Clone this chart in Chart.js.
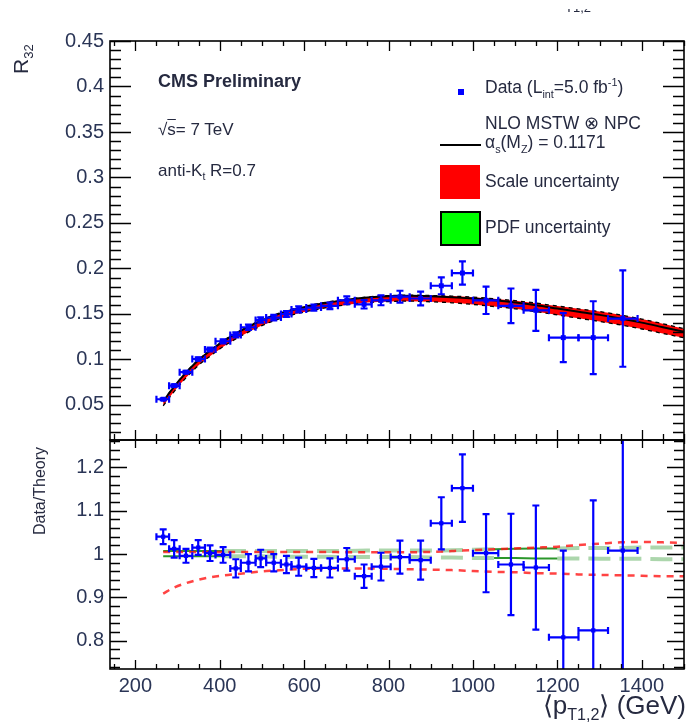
<!DOCTYPE html>
<html>
<head>
<meta charset="utf-8">
<script src="https://cdn.jsdelivr.net/npm/chart.js@4.4.1/dist/chart.umd.min.js"></script>
<style>
  body { margin: 0; background: #fff; }
  #wrap { position: relative; width: 688px; height: 723px; overflow: hidden;
          font-family: "Liberation Sans", Arial, sans-serif; color: #262a40; }
  canvas { position: absolute; left: 0; top: 0; }
  .t { position: absolute; white-space: nowrap; line-height: 1; }
  sub, sup { font-size: 62%; line-height: 0; }
  .box { position: absolute; }
</style>
</head>
<body>
<div id="wrap">
  <canvas id="ratioChart" width="688" height="723"></canvas>
  <canvas id="r32Chart" width="688" height="723"></canvas>

  <div class="t" style="left:158px;top:72px;font-size:18px;font-weight:bold">CMS Preliminary</div>
  <div class="t" style="left:158px;top:121px;font-size:17px">&radic;<span style="text-decoration:overline">s</span>= 7 TeV</div>
  <div class="t" style="left:158px;top:162px;font-size:17px">anti-K<sub>t</sub> R=0.7</div>

  <div class="box" style="left:458px;top:89px;width:6px;height:6px;background:#00f"></div>
  <div class="t" style="left:485px;top:79px;font-size:17.5px">Data (L<sub>int</sub>=5.0 fb<sup>-1</sup>)</div>
  <div class="box" style="left:440px;top:144px;width:41px;height:2px;background:#000"></div>
  <div class="t" style="left:485px;top:115px;font-size:17.5px">NLO MSTW &otimes; NPC</div>
  <div class="t" style="left:485px;top:134px;font-size:17.5px">&alpha;<sub>s</sub>(M<sub>Z</sub>) = 0.1171</div>
  <div class="box" style="left:440px;top:165px;width:40px;height:34px;background:#f00"></div>
  <div class="t" style="left:485px;top:173px;font-size:17.5px">Scale uncertainty</div>
  <div class="box" style="left:440px;top:211px;width:37px;height:31px;background:#0f0;border:2px solid #000"></div>
  <div class="t" style="left:485px;top:219px;font-size:17.5px">PDF uncertainty</div>

  <div class="t" style="left:10px;top:74px;font-size:21px;transform:rotate(-90deg);transform-origin:left top">R<sub>32</sub></div>
  <div class="t" style="left:32px;top:541px;width:100px;text-align:center;font-size:16px;font-family:'Liberation Sans Narrow','Liberation Sans',sans-serif;transform:rotate(-90deg);transform-origin:left top">Data/Theory</div>
  <div class="t" style="right:2px;top:692px;font-size:26px">&#x27E8;p<sub>T1,2</sub>&#x27E9; (GeV)</div>
  <div class="box" style="left:565px;top:9px;width:40px;height:6px;overflow:hidden"><div class="t" style="left:0;top:-8px;font-size:13px">T1,2</div></div>
</div>

<script>
// bin edges and mean pT per bin (GeV)
const binEdges = [250, 280, 305, 335, 365, 390, 425, 450, 485, 510, 545, 570, 605, 640, 680,
  720, 760, 805, 850, 900, 950, 1000, 1060, 1120, 1180, 1250, 1320, 1390];
const ptMean = [266, 292, 320, 349, 377, 408, 438, 468, 497, 528, 558, 587, 623, 661, 701,
  742, 782, 827, 876, 925, 975, 1031, 1090, 1149, 1214, 1285, 1355];

// measured R32 and its error
const r32Data = [0.0563, 0.0712, 0.0860, 0.1005, 0.1110, 0.1200, 0.1270, 0.1354, 0.1434, 0.1460,
  0.1500, 0.1550, 0.1570, 0.1590, 0.1650, 0.1606, 0.1650, 0.1690, 0.1670, 0.1810, 0.1950,
  0.1650, 0.1590, 0.1540, 0.1240, 0.1240, 0.1450];
const r32Err = [0.0009, 0.0014, 0.0014, 0.0017, 0.0020, 0.0022, 0.0028, 0.0028, 0.0029, 0.0030,
  0.0031, 0.0033, 0.0034, 0.0036, 0.0043, 0.0046, 0.0054, 0.0065, 0.0076, 0.0093, 0.0128,
  0.0150, 0.0190, 0.0225, 0.0270, 0.0400, 0.0530];

// data / theory
const ratioData = [1.040, 1.012, 0.996, 1.015, 1.002, 0.998, 0.967, 0.980, 0.990, 0.980, 0.976,
  0.971, 0.968, 0.968, 0.988, 0.949, 0.971, 0.993, 0.986, 1.071, 1.152, 1.002, 0.976, 0.969,
  0.808, 0.824, 1.008];
const ratioErr = [0.017, 0.020, 0.016, 0.017, 0.018, 0.018, 0.021, 0.020, 0.020, 0.020, 0.020,
  0.021, 0.021, 0.022, 0.026, 0.027, 0.032, 0.038, 0.045, 0.060, 0.078, 0.090, 0.117, 0.143,
  0.200, 0.300, 0.370];

// NLO x NPC prediction
const theoryPt = [266, 290, 320, 350, 380, 410, 440, 470, 500, 530, 560, 600, 650, 700, 750,
  800, 850, 900, 950, 1000, 1050, 1100, 1150, 1200, 1250, 1300, 1350, 1400, 1450, 1500];
const theoryR32 = [0.0540, 0.0690, 0.0855, 0.0995, 0.1105, 0.1205, 0.1290, 0.1365, 0.1430,
  0.1485, 0.1530, 0.1575, 0.1620, 0.1655, 0.1680, 0.1695, 0.1700, 0.1695, 0.1685, 0.1670,
  0.1650, 0.1625, 0.1595, 0.1560, 0.1525, 0.1490, 0.1450, 0.1405, 0.1355, 0.1305];
const scaleHiR32 = [0.0543, 0.0693, 0.0859, 0.1000, 0.1111, 0.1211, 0.1296, 0.1372, 0.1437,
  0.1492, 0.1538, 0.1583, 0.1628, 0.1662, 0.1687, 0.1702, 0.1707, 0.1703, 0.1697, 0.1685,
  0.1668, 0.1646, 0.1619, 0.1587, 0.1557, 0.1526, 0.1489, 0.1444, 0.1392, 0.1339];
const scaleLoR32 = [0.0491, 0.0636, 0.0798, 0.0936, 0.1046, 0.1146, 0.1231, 0.1306, 0.1373,
  0.1429, 0.1475, 0.1521, 0.1567, 0.1600, 0.1625, 0.1637, 0.1641, 0.1634, 0.1623, 0.1605,
  0.1582, 0.1557, 0.1525, 0.1490, 0.1453, 0.1418, 0.1379, 0.1335, 0.1286, 0.1238];

// relative uncertainties shown in the ratio panel
const scaleUp = [1.005, 1.005, 1.005, 1.005, 1.005, 1.005, 1.005, 1.005, 1.005, 1.005, 1.005,
  1.005, 1.005, 1.004, 1.004, 1.004, 1.004, 1.005, 1.007, 1.009, 1.011, 1.013, 1.015, 1.017,
  1.021, 1.024, 1.027, 1.028, 1.027, 1.026];
const scaleDown = [0.909, 0.922, 0.933, 0.941, 0.947, 0.951, 0.954, 0.957, 0.960, 0.962, 0.964,
  0.966, 0.967, 0.967, 0.967, 0.966, 0.965, 0.964, 0.963, 0.961, 0.959, 0.958, 0.956, 0.955,
  0.953, 0.952, 0.951, 0.950, 0.949, 0.949];
const pdfUp = [1.007, 1.007, 1.007, 1.007, 1.007, 1.007, 1.007, 1.007, 1.007, 1.007, 1.007,
  1.007, 1.007, 1.007, 1.008, 1.008, 1.008, 1.008, 1.009, 1.010, 1.011, 1.012, 1.013, 1.013,
  1.014, 1.014, 1.014, 1.015, 1.015, 1.015];
const pdfDown = [0.995, 0.995, 0.995, 0.995, 0.995, 0.995, 0.995, 0.995, 0.995, 0.994, 0.994,
  0.994, 0.994, 0.993, 0.993, 0.993, 0.993, 0.992, 0.992, 0.991, 0.991, 0.991, 0.990, 0.990,
  0.990, 0.989, 0.989, 0.989, 0.988, 0.988];

const r32Ticks = [0.05, 0.1, 0.15, 0.2, 0.25, 0.3, 0.35, 0.4, 0.45];
const r32TickLabels = ["0.05", "0.1", "0.15", "0.2", "0.25", "0.3", "0.35", "0.4", "0.45"];
const ratioTicks = [0.8, 0.9, 1, 1.1, 1.2];
const ratioTickLabels = ["0.8", "0.9", "1", "1.1", "1.2"];
const ptTicks = [200, 400, 600, 800, 1000, 1200, 1400];
const ptTickLabels = ["200", "400", "600", "800", "1000", "1200", "1400"];

const pairs = (xs, ys) => xs.map((x, i) => ({ x: x, y: ys[i] }));
const tickFont = { family: "Liberation Sans", size: 20 };
const tickColor = "#2a3556";

// x and y error bars for datasets that carry errY
const errorBars = {
  id: "errorBars",
  afterDatasetsDraw(chart) {
    const { ctx, chartArea: a, scales: { x, y } } = chart;
    ctx.save();
    ctx.beginPath();
    ctx.rect(a.left, a.top, a.right - a.left, a.bottom - a.top);
    ctx.clip();
    chart.data.datasets.forEach((ds) => {
      if (!ds.errY) return;
      ctx.strokeStyle = ds.borderColor;
      ctx.lineWidth = 2.2;
      const cap = 3.5;
      ds.data.forEach((p, i) => {
        const px = x.getPixelForValue(p.x);
        const py = y.getPixelForValue(p.y);
        const x0 = x.getPixelForValue(binEdges[i]);
        const x1 = x.getPixelForValue(binEdges[i + 1]);
        const y0 = y.getPixelForValue(p.y - ds.errY[i]);
        const y1 = y.getPixelForValue(p.y + ds.errY[i]);
        ctx.beginPath();
        ctx.moveTo(x0, py); ctx.lineTo(x1, py);
        ctx.moveTo(x0, py - cap); ctx.lineTo(x0, py + cap);
        ctx.moveTo(x1, py - cap); ctx.lineTo(x1, py + cap);
        ctx.moveTo(px, y0); ctx.lineTo(px, y1);
        ctx.moveTo(px - cap, y0); ctx.lineTo(px + cap, y0);
        ctx.moveTo(px - cap, y1); ctx.lineTo(px + cap, y1);
        ctx.stroke();
      });
    });
    ctx.restore();
  },
};

// box frame with inward major/minor ticks on all four sides
const rootFrame = {
  id: "rootFrame",
  afterDraw(chart, args, o) {
    const { ctx, chartArea: a, scales: { x, y } } = chart;
    const marks = (min, max, major, minor) => {
      const out = [];
      for (let n = Math.ceil(min / minor - 1e-6); n * minor <= max + 1e-9; n++) {
        const v = n * minor;
        out.push([v, Math.abs(v / major - Math.round(v / major)) < 1e-6]);
      }
      return out;
    };
    ctx.save();
    ctx.strokeStyle = "#000";
    ctx.lineWidth = 1.3;
    ctx.beginPath();
    marks(x.min, x.max, o.xMajor, o.xMinor).forEach(([v, big]) => {
      const px = Math.round(x.getPixelForValue(v)) + 0.5;
      ctx.moveTo(px, a.bottom); ctx.lineTo(px, a.bottom - (big ? o.xBottom[0] : o.xBottom[1]));
      ctx.moveTo(px, a.top); ctx.lineTo(px, a.top + (big ? o.xTop[0] : o.xTop[1]));
    });
    marks(y.min, y.max, o.yMajor, o.yMinor).forEach(([v, big]) => {
      const py = Math.round(y.getPixelForValue(v)) + 0.5;
      const len = big ? o.yLen[0] : o.yLen[1];
      ctx.moveTo(a.left, py); ctx.lineTo(a.left + len, py);
      ctx.moveTo(a.right, py); ctx.lineTo(a.right - len, py);
    });
    ctx.stroke();
    ctx.lineWidth = 1.6;
    ctx.strokeRect(a.left, a.top, a.right - a.left, a.bottom - a.top);
    ctx.restore();
  },
};

const baseOptions = {
  responsive: false,
  animation: false,
  events: [],
};

new Chart(document.getElementById("r32Chart"), {
  type: "line",
  data: {
    datasets: [
      {
        label: "Data",
        data: pairs(ptMean, r32Data),
        errY: r32Err,
        showLine: false,
        pointStyle: "rect",
        pointRadius: 3.5,
        backgroundColor: "#0000ff",
        borderColor: "#0000ff",
        borderWidth: 0,
      },
      {
        label: "NLO MSTW x NPC",
        data: pairs(theoryPt, theoryR32),
        borderColor: "#000",
        borderWidth: 2,
        pointRadius: 0,
        cubicInterpolationMode: "monotone",
      },
      {
        label: "scale low",
        data: pairs(theoryPt, scaleLoR32),
        borderColor: "#000",
        borderWidth: 1.3,
        borderDash: [4, 4],
        pointRadius: 0,
        cubicInterpolationMode: "monotone",
      },
      {
        label: "scale high",
        data: pairs(theoryPt, scaleHiR32),
        borderColor: "#000",
        borderWidth: 1.3,
        borderDash: [4, 4],
        pointRadius: 0,
        fill: "-1",
        backgroundColor: "#ff0000",
        cubicInterpolationMode: "monotone",
      },
    ],
  },
  options: {
    ...baseOptions,
    layout: { padding: { left: 0, right: 4, top: 41, bottom: 283 } },
    plugins: {
      legend: { display: false },
      tooltip: { enabled: false },
      rootFrame: { xMajor: 200, xMinor: 50, yMajor: 0.05, yMinor: 0.01,
        xTop: [10, 5], xBottom: [10, 6], yLen: [21, 11] },
    },
    scales: {
      x: { type: "linear", min: 140, max: 1500, display: false },
      y: {
        min: 0.0115,
        max: 0.45,
        grid: { display: false, drawTicks: false },
        border: { display: false },
        afterBuildTicks: (s) => { s.ticks = r32Ticks.map((v) => ({ value: v })); },
        afterFit: (s) => { s.width = 110; },
        ticks: {
          font: tickFont,
          color: tickColor,
          padding: 6,
          callback: (v, i) => r32TickLabels[i],
        },
      },
    },
  },
  plugins: [errorBars, rootFrame],
});

// PDF band edges: solid dark green over part of the range, faded dashes elsewhere
const darkPdf = (pt) => pt < 410 || (pt >= 1020 && pt < 1200);
const pdfSegment = {
  borderColor: (c) => (darkPdf(c.p0.parsed.x) ? "rgba(20,140,20,0.9)" : "rgba(70,165,70,0.45)"),
  borderDash: (c) => (darkPdf(c.p0.parsed.x) ? [] : [22, 9]),
  borderWidth: (c) => (darkPdf(c.p0.parsed.x) ? 2 : 4),
};

new Chart(document.getElementById("ratioChart"), {
  type: "line",
  data: {
    datasets: [
      {
        label: "Data/Theory",
        data: pairs(ptMean, ratioData),
        errY: ratioErr,
        showLine: false,
        pointStyle: "rect",
        pointRadius: 3,
        backgroundColor: "#0000ff",
        borderColor: "#0000ff",
        borderWidth: 0,
      },
      {
        label: "scale up",
        data: pairs(theoryPt, scaleUp),
        borderColor: "rgba(255,20,20,0.8)",
        borderWidth: 2.5,
        borderDash: [7, 6],
        pointRadius: 0,
        cubicInterpolationMode: "monotone",
      },
      {
        label: "scale down",
        data: pairs(theoryPt, scaleDown),
        borderColor: "rgba(255,20,20,0.8)",
        borderWidth: 2.5,
        borderDash: [7, 6],
        pointRadius: 0,
        cubicInterpolationMode: "monotone",
      },
      {
        label: "pdf up",
        data: pairs(theoryPt, pdfUp),
        borderColor: "rgba(70,165,70,0.45)",
        borderWidth: 4,
        pointRadius: 0,
        segment: pdfSegment,
      },
      {
        label: "pdf down",
        data: pairs(theoryPt, pdfDown),
        borderColor: "rgba(70,165,70,0.45)",
        borderWidth: 4,
        pointRadius: 0,
        segment: pdfSegment,
      },
    ],
  },
  options: {
    ...baseOptions,
    layout: { padding: { left: 0, right: 4, top: 440, bottom: 0 } },
    plugins: {
      legend: { display: false },
      tooltip: { enabled: false },
      rootFrame: { xMajor: 200, xMinor: 50, yMajor: 0.1, yMinor: 0.02,
        xTop: [8, 4], xBottom: [9, 5], yLen: [17, 10] },
    },
    scales: {
      x: {
        type: "linear",
        min: 140,
        max: 1500,
        grid: { display: false, drawTicks: false },
        border: { display: false },
        afterBuildTicks: (s) => { s.ticks = ptTicks.map((v) => ({ value: v })); },
        afterFit: (s) => { s.height = 54; },
        ticks: {
          font: tickFont,
          color: tickColor,
          padding: 5,
          autoSkip: false,
          maxRotation: 0,
          callback: (v, i) => ptTickLabels[i],
        },
      },
      y: {
        min: 0.735,
        max: 1.263,
        grid: { display: false, drawTicks: false },
        border: { display: false },
        afterBuildTicks: (s) => { s.ticks = ratioTicks.map((v) => ({ value: v })); },
        afterFit: (s) => { s.width = 110; },
        ticks: {
          font: tickFont,
          color: tickColor,
          padding: 6,
          callback: (v, i) => ratioTickLabels[i],
        },
      },
    },
  },
  plugins: [errorBars, rootFrame],
});
</script>
</body>
</html>
